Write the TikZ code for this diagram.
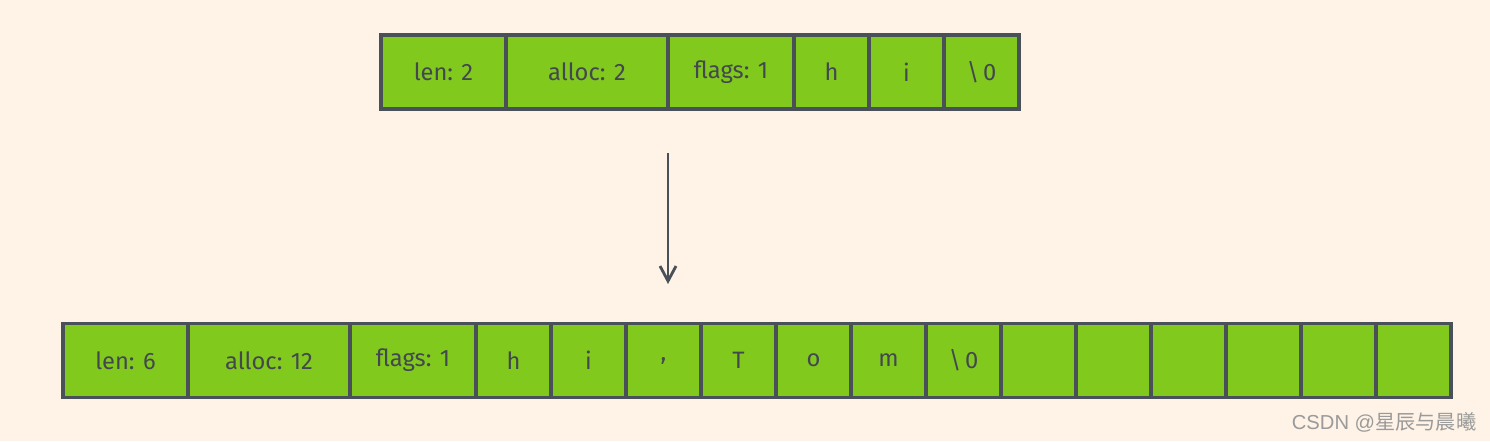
\documentclass[tikz,border=0pt]{standalone}
\usepackage{fontspec}
\setmainfont{Fira Sans}
\newfontfamily\cjkfont{Noto Sans CJK SC}
\newfontfamily\wmfont{Liberation Sans}
\usepackage{xcolor}
\usepackage{tikz}
\usetikzlibrary{arrows.meta,positioning}

\definecolor{paper}{HTML}{FEF3E6}
\definecolor{cellgreen}{HTML}{82C91E}
\definecolor{ink}{HTML}{495057}
\definecolor{mark}{HTML}{9A9A9A}

\begin{document}
\begin{tikzpicture}[
    >=Stealth, font=\fontsize{13.5}{16}\selectfont, node distance=0pt,
    cell/.style={rectangle, draw=ink, fill=cellgreen, line width=1.8pt,
                 outer sep=0pt, inner sep=0pt, text=ink!90!black,
                 minimum height=14.8mm, minimum width=15mm},
    wide/.style={cell, minimum width=25mm},
    wider/.style={cell, minimum width=32.4mm},
    mid/.style={cell, minimum width=25.2mm},
    arr/.style={-{Straight Barb[length=3mm,width=3.2mm,line width=1.6pt]},
                line width=1.6pt, draw=ink}
]
% page and background
\fill[paper] (0,0) rectangle (29.8,-8.82);
\useasboundingbox (0,0) rectangle (29.8,-8.82);

% Top row: the old string "hi"
\node[wide, anchor=west] (olen) at (7.62,-1.44) {len: 2};
\node[wider, right=of olen]   (oalloc) {alloc: 2};
\node[mid,   right=of oalloc] (oflags) {flags: 1};
\node[cell,  right=of oflags] (oh)     {h};
\node[cell,  right=of oh]     (oi)     {i};
\node[cell,  right=of oi]     (onul)   {\textbackslash\,0};

% Bottom row: after appending ",Tom"
\node[wide, anchor=west] (nlen) at (1.26,-7.21) {len: 6};
\node[wider, right=of nlen]   (nalloc) {alloc: 12};
\node[mid,   right=of nalloc] (nflags) {flags: 1};
\node[cell,  right=of nflags] (nh)     {h};
\node[cell,  right=of nh]     (ni)     {i};
\node[cell,  right=of ni]     (ncomma) {,};
\node[cell,  right=of ncomma] (nT)     {T};
\node[cell,  right=of nT]     (no)     {o};
\node[cell,  right=of no]     (nm)     {m};
\node[cell,  right=of nm]     (nnul)   {\textbackslash\,0};
% free space left over
\node[cell,  right=of nnul]   (free1)  {};
\node[cell,  right=of free1]  (free2)  {};
\node[cell,  right=of free2]  (free3)  {};
\node[cell,  right=of free3]  (free4)  {};
\node[cell,  right=of free4]  (free5)  {};
\node[cell,  right=of free5]  (free6)  {};

% Growth arrow, under the alloc/flags border
\coordinate (grow) at ([yshift=-8.8mm]oalloc.south east);
\coordinate (grown) at ([yshift=-35mm]oalloc.south east);
\draw[arr] (grow) -- (grown);

% watermark
\node[anchor=east, text=mark, font=\fontsize{11.5}{14}\wmfont] (wm) at (29.65,-8.44)
     {CSDN @{\cjkfont 星辰与晨曦}};
\end{tikzpicture}
\end{document}
